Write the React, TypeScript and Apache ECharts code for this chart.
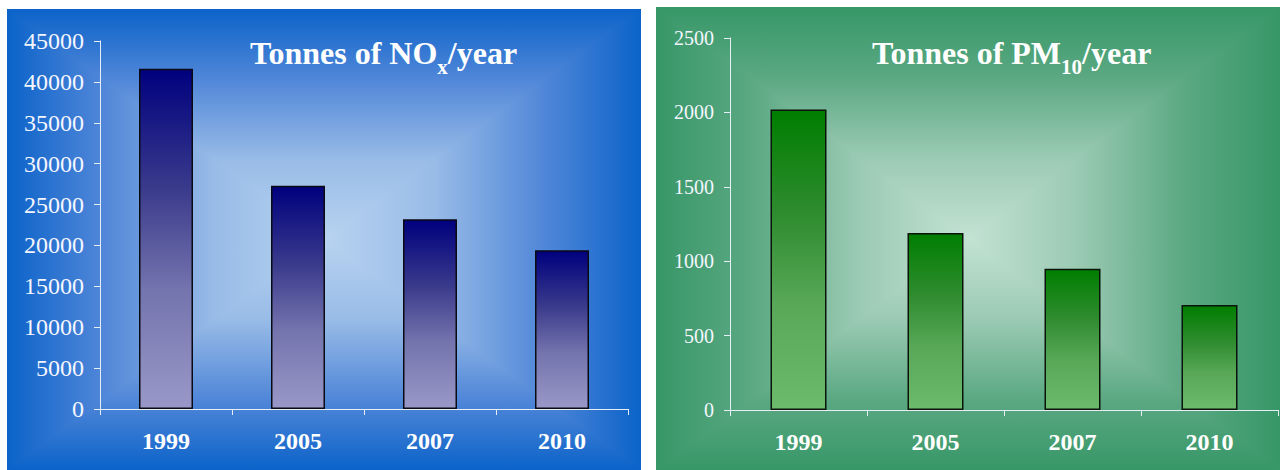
import React, { useEffect, useRef } from "react";
import * as echarts from "echarts";

// Emission totals per year
const years = ["1999", "2005", "2007", "2010"];
const noxTonnes = [41600, 27300, 23200, 19400];
const pm10Tonnes = [2020, 1190, 950, 705];

// Axis scales
const noxAxisMax = 45000;
const noxAxisStep = 5000;
const pmAxisMax = 2500;
const pmAxisStep = 500;

const FONT = "'Liberation Serif', 'Times New Roman', serif";

type Panel = { l: number; t: number; r: number; b: number; stops: [number, string][] };

// Rectangular "from centre" gradient: a vertical mirrored gradient rect,
// with left/right triangles carrying the horizontal gradient on top.
function panelBackground(p: Panel) {
  const cx = (p.l + p.r) / 2;
  const cy = (p.t + p.b) / 2;
  const fwd = p.stops.map(([o, c]) => ({ offset: o, color: c }));
  const mirrored = [
    ...p.stops.map(([o, c]) => ({ offset: o / 2, color: c })),
    ...p.stops
      .slice(0, -1)
      .reverse()
      .map(([o, c]) => ({ offset: 1 - o / 2, color: c })),
  ];
  return [
    {
      type: "rect",
      z: -20,
      silent: true,
      shape: { x: p.l, y: p.t, width: p.r - p.l, height: p.b - p.t },
      style: { fill: new echarts.graphic.LinearGradient(0, 0, 0, 1, mirrored) },
    },
    {
      type: "polygon",
      z: -19,
      silent: true,
      shape: { points: [[p.l, p.t], [cx, cy], [p.l, p.b]] },
      style: { fill: new echarts.graphic.LinearGradient(0, 0, 1, 0, fwd) },
    },
    {
      type: "polygon",
      z: -19,
      silent: true,
      shape: { points: [[p.r, p.t], [cx, cy], [p.r, p.b]] },
      style: { fill: new echarts.graphic.LinearGradient(1, 0, 0, 0, fwd) },
    },
  ];
}

const blueStops: [number, string][] = [
  [0, "#0b63c9"],
  [0.3, "#4f86d8"],
  [0.65, "#98bbe7"],
  [1, "#b8d3f0"],
];
const greenStops: [number, string][] = [
  [0, "#379767"],
  [0.3, "#5aa882"],
  [0.65, "#9bcab3"],
  [1, "#c3e2d3"],
];

const axisLineColor = "#e8eef6";

function titleRich() {
  return {
    a: { fontFamily: FONT, fontWeight: "bold", fontSize: 32, color: "#ffffff", lineHeight: 48 },
    s: {
      fontFamily: FONT,
      fontWeight: "bold",
      fontSize: 21,
      color: "#ffffff",
      lineHeight: 15,
      verticalAlign: "bottom",
    },
  };
}

export default function App() {
  const ref = useRef<HTMLDivElement>(null);

  useEffect(() => {
    if (!ref.current) return;
    const chart = echarts.init(ref.current, undefined, { renderer: "svg" });

    const yLabel = (size: number) => ({
      color: "#f4f6ff",
      fontFamily: FONT,
      fontSize: size,
      margin: 16,
      formatter: (v: number) => String(v),
    });
    const xLabel = {
      color: "#ffffff",
      fontFamily: FONT,
      fontSize: 24,
      fontWeight: "bold",
      margin: 20,
    };
    const axisLine = { show: true, lineStyle: { color: axisLineColor, width: 1 } };
    const axisTick = { show: true, length: 6, lineStyle: { color: axisLineColor, width: 1 } };

    chart.setOption({
      animation: false,
      backgroundColor: "#ffffff",
      graphic: [
        ...panelBackground({ l: 7, t: 9, r: 641, b: 470, stops: blueStops }),
        ...panelBackground({ l: 656, t: 7, r: 1280, b: 470, stops: greenStops }),
      ],
      title: [
        {
          left: 245,
          top: 24,
          text: "{a|Tonnes of NO}{s|x}{a|/year}",
          textStyle: { rich: titleRich() },
        },
        {
          left: 867,
          top: 24,
          text: "{a|Tonnes of PM}{s|10}{a|/year}",
          textStyle: { rich: titleRich() },
        },
      ],
      grid: [
        { left: 100, top: 41, width: 528, height: 368 },
        { left: 730, top: 38, width: 548, height: 372 },
      ],
      xAxis: [
        {
          type: "category",
          gridIndex: 0,
          data: years,
          axisLine,
          axisTick,
          axisLabel: xLabel,
        },
        {
          type: "category",
          gridIndex: 1,
          data: years,
          axisLine,
          axisTick,
          axisLabel: xLabel,
        },
      ],
      yAxis: [
        {
          type: "value",
          gridIndex: 0,
          min: 0,
          max: noxAxisMax,
          interval: noxAxisStep,
          axisLine,
          axisTick,
          splitLine: { show: false },
          axisLabel: yLabel(24),
        },
        {
          type: "value",
          gridIndex: 1,
          min: 0,
          max: pmAxisMax,
          interval: pmAxisStep,
          axisLine,
          axisTick,
          splitLine: { show: false },
          axisLabel: yLabel(20),
        },
      ],
      series: [
        {
          type: "bar",
          xAxisIndex: 0,
          yAxisIndex: 0,
          data: noxTonnes,
          barWidth: 54,
          itemStyle: {
            color: new echarts.graphic.LinearGradient(0, 0, 0, 1, [
              { offset: 0, color: "#00007e" },
              { offset: 0.35, color: "#3a3a8c" },
              { offset: 0.65, color: "#7474ae" },
              { offset: 1, color: "#9898c8" },
            ]),
            borderColor: "#0a0a14",
            borderWidth: 1.5,
          },
        },
        {
          type: "bar",
          xAxisIndex: 1,
          yAxisIndex: 1,
          data: pm10Tonnes,
          barWidth: 56,
          itemStyle: {
            color: new echarts.graphic.LinearGradient(0, 0, 0, 1, [
              { offset: 0, color: "#007e00" },
              { offset: 0.35, color: "#2f8c2f" },
              { offset: 0.65, color: "#58a858" },
              { offset: 1, color: "#6cba6c" },
            ]),
            borderColor: "#0a140a",
            borderWidth: 1.5,
          },
        },
      ],
    });

    return () => chart.dispose();
  }, []);

  return (
    <div
      ref={ref}
      style={{ position: "fixed", left: 0, top: 0, width: 1280, height: 470 }}
    />
  );
}
